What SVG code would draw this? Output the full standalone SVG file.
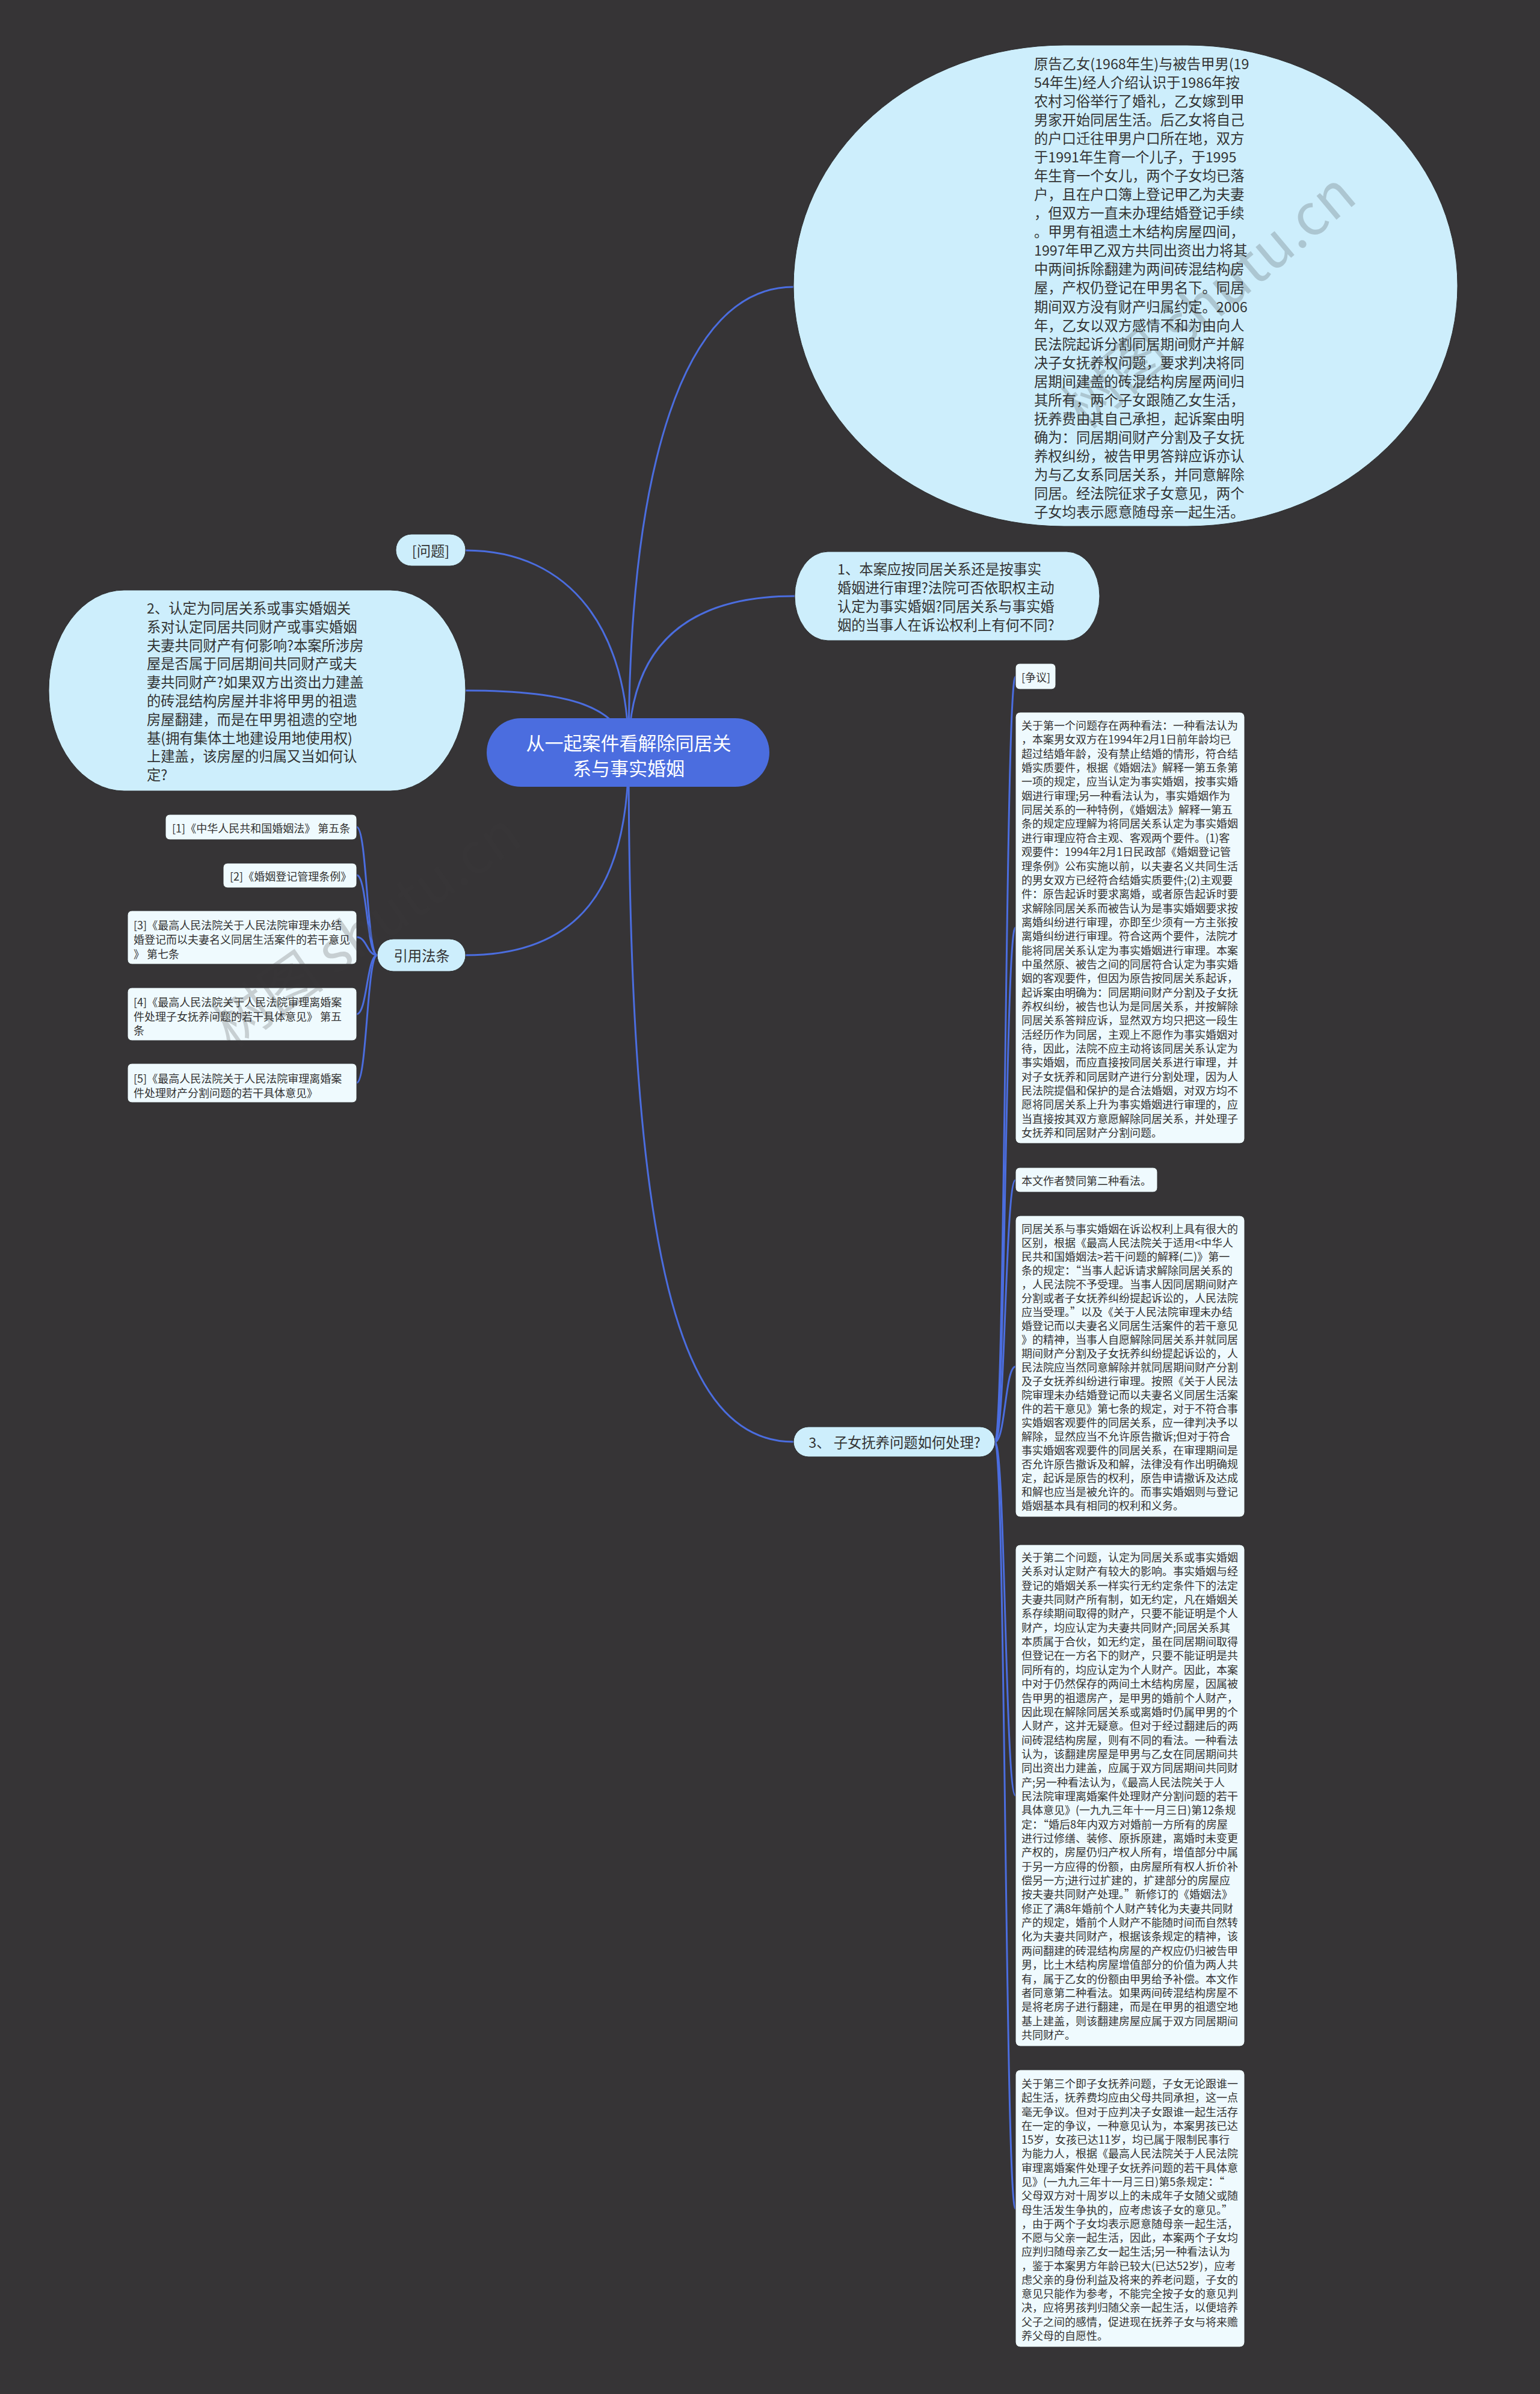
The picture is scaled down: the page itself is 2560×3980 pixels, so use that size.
<svg xmlns="http://www.w3.org/2000/svg" width="2560" height="3980" viewBox="0 0 2560 3980">
<style>
.bg{fill:#363436}
.lb{fill:#cdeefc;stroke:#2e2e30;stroke-width:1}
.wb{fill:#effafe;stroke:#2e2e30;stroke-width:1}
.root{fill:#4b6ddf}
.c{fill:none;stroke:#4b6ddf;stroke-width:3}
text{font-family:"Noto Sans CJK SC","Noto Sans",sans-serif;fill:#333333;dominant-baseline:central}
.t23{font-size:23.3px}
.t18{font-size:18px}
.rt{font-size:31px;fill:#ffffff}
.mid{text-anchor:middle}
.wm{font-size:95px;fill:#3c3c3c;opacity:0.22}
</style>
<rect class="bg" x="0" y="0" width="2560" height="3980"/>
<g id="connectors">
<path class="c" d="M1045,1251 C1045,780 1135,477 1319,477"/>
<path class="c" d="M1045,1251 C1045,1080 1135,991 1321,991"/>
<path class="c" d="M1045,1251 C1045,1050 950,915 774,915"/>
<path class="c" d="M1045,1251 C1030,1175 950,1148 774,1148"/>
<path class="c" d="M1045,1251 C1045,1480 960,1588 774,1588"/>
<path class="c" d="M1045,1251 C1045,2100 1130,2397 1319,2397"/>
<path class="c" d="M627,1588 C610,1588 610,1375 593,1375"/>
<path class="c" d="M627,1588 C610,1588 610,1455 593,1455"/>
<path class="c" d="M627,1588 C610,1588 610,1558 593,1558"/>
<path class="c" d="M627,1588 C610,1588 610,1686 593,1686"/>
<path class="c" d="M627,1588 C610,1588 610,1800 593,1800"/>
<path class="c" d="M1654,2397 C1671,2397 1671,1125 1688,1125"/>
<path class="c" d="M1654,2397 C1671,2397 1671,1542 1688,1542"/>
<path class="c" d="M1654,2397 C1671,2397 1671,1962 1688,1962"/>
<path class="c" d="M1654,2397 C1671,2397 1671,2272 1688,2272"/>
<path class="c" d="M1654,2397 C1671,2397 1671,2985 1688,2985"/>
<path class="c" d="M1654,2397 C1671,2397 1671,3672 1688,3672"/>
</g>
<g id="root">
<rect class="root" x="809" y="1194" width="470" height="114" rx="57" ry="57"/>
<text class="rt mid"><tspan x="1045" y="1233">从一起案件看解除同居关</tspan><tspan x="1045" y="1275">系与事实婚姻</tspan></text>
</g>
<g id="case">
<rect class="lb" x="1319" y="75" width="1104" height="800" rx="450" ry="400"/>
<text class="t23">
<tspan x="1719" y="105">原告乙女(1968年生)与被告甲男(19</tspan>
<tspan x="1719" dy="31.04">54年生)经人介绍认识于1986年按</tspan>
<tspan x="1719" dy="31.04">农村习俗举行了婚礼，乙女嫁到甲</tspan>
<tspan x="1719" dy="31.04">男家开始同居生活。后乙女将自己</tspan>
<tspan x="1719" dy="31.04">的户口迁往甲男户口所在地，双方</tspan>
<tspan x="1719" dy="31.04">于1991年生育一个儿子，于1995</tspan>
<tspan x="1719" dy="31.04">年生育一个女儿，两个子女均已落</tspan>
<tspan x="1719" dy="31.04">户，且在户口簿上登记甲乙为夫妻</tspan>
<tspan x="1719" dy="31.04">，但双方一直未办理结婚登记手续</tspan>
<tspan x="1719" dy="31.04">。甲男有祖遗土木结构房屋四间，</tspan>
<tspan x="1719" dy="31.04">1997年甲乙双方共同出资出力将其</tspan>
<tspan x="1719" dy="31.04">中两间拆除翻建为两间砖混结构房</tspan>
<tspan x="1719" dy="31.04">屋，产权仍登记在甲男名下。同居</tspan>
<tspan x="1719" dy="31.04">期间双方没有财产归属约定。2006</tspan>
<tspan x="1719" dy="31.04">年，乙女以双方感情不和为由向人</tspan>
<tspan x="1719" dy="31.04">民法院起诉分割同居期间财产并解</tspan>
<tspan x="1719" dy="31.04">决子女抚养权问题，要求判决将同</tspan>
<tspan x="1719" dy="31.04">居期间建盖的砖混结构房屋两间归</tspan>
<tspan x="1719" dy="31.04">其所有，两个子女跟随乙女生活，</tspan>
<tspan x="1719" dy="31.04">抚养费由其自己承担，起诉案由明</tspan>
<tspan x="1719" dy="31.04">确为：同居期间财产分割及子女抚</tspan>
<tspan x="1719" dy="31.04">养权纠纷，被告甲男答辩应诉亦认</tspan>
<tspan x="1719" dy="31.04">为与乙女系同居关系，并同意解除</tspan>
<tspan x="1719" dy="31.04">同居。经法院征求子女意见，两个</tspan>
<tspan x="1719" dy="31.04">子女均表示愿意随母亲一起生活。</tspan>
</text>
</g>
<g id="q1">
<rect class="lb" x="1321" y="917" width="507" height="148" rx="55" ry="74"/>
<text class="t23">
<tspan x="1392" y="945">1、本案应按同居关系还是按事实</tspan>
<tspan x="1392" dy="31">婚姻进行审理?法院可否依职权主动</tspan>
<tspan x="1392" dy="31">认定为事实婚姻?同居关系与事实婚</tspan>
<tspan x="1392" dy="31">姻的当事人在诉讼权利上有何不同?</tspan>
</text>
</g>
<g id="wenti">
<rect class="lb" x="658" y="888" width="116" height="53" rx="26" ry="26"/>
<text class="t23 mid" x="716" y="915">[问题]</text>
</g>
<g id="q2">
<rect class="lb" x="81" y="981" width="693" height="334" rx="125" ry="167"/>
<text class="t23">
<tspan x="244" y="1010">2、认定为同居关系或事实婚姻关</tspan>
<tspan x="244" dy="30.8">系对认定同居共同财产或事实婚姻</tspan>
<tspan x="244" dy="30.8">夫妻共同财产有何影响?本案所涉房</tspan>
<tspan x="244" dy="30.8">屋是否属于同居期间共同财产或夫</tspan>
<tspan x="244" dy="30.8">妻共同财产?如果双方出资出力建盖</tspan>
<tspan x="244" dy="30.8">的砖混结构房屋并非将甲男的祖遗</tspan>
<tspan x="244" dy="30.8">房屋翻建，而是在甲男祖遗的空地</tspan>
<tspan x="244" dy="30.8">基(拥有集体土地建设用地使用权)</tspan>
<tspan x="244" dy="30.8">上建盖，该房屋的归属又当如何认</tspan>
<tspan x="244" dy="30.8">定?</tspan>
</text>
</g>
<g id="laws">
<rect class="lb" x="627" y="1561" width="147" height="54" rx="27" ry="27"/>
<text class="t23 mid" x="701" y="1588">引用法条</text>
</g>
<g id="law1">
<rect class="wb" x="275" y="1354" width="318" height="42" rx="7"/>
<text class="t18" x="286" y="1376">[1]《中华人民共和国婚姻法》 第五条</text>
</g>
<g id="law2">
<rect class="wb" x="371" y="1435" width="222" height="41" rx="7"/>
<text class="t18" x="382" y="1456">[2]《婚姻登记管理条例》</text>
</g>
<g id="law3">
<rect class="wb" x="212" y="1514" width="381" height="89" rx="7"/>
<text class="t18"><tspan x="222" y="1537">[3]《最高人民法院关于人民法院审理未办结</tspan><tspan x="222" dy="24">婚登记而以夫妻名义同居生活案件的若干意见</tspan><tspan x="222" dy="24">》 第七条</tspan></text>
</g>
<g id="law4">
<rect class="wb" x="212" y="1642" width="381" height="88" rx="7"/>
<text class="t18"><tspan x="222" y="1665">[4]《最高人民法院关于人民法院审理离婚案</tspan><tspan x="222" dy="23.5">件处理子女抚养问题的若干具体意见》 第五</tspan><tspan x="222" dy="23.5">条</tspan></text>
</g>
<g id="law5">
<rect class="wb" x="212" y="1768" width="381" height="65" rx="7"/>
<text class="t18"><tspan x="222" y="1792">[5]《最高人民法院关于人民法院审理离婚案</tspan><tspan x="222" dy="23.5">件处理财产分割问题的若干具体意见》</tspan></text>
</g>
<g id="q3">
<rect class="lb" x="1319" y="2372" width="335" height="50" rx="25" ry="25"/>
<text class="t23 mid" x="1487" y="2397">3、 子女抚养问题如何处理?</text>
</g>
<g id="zhengyi">
<rect class="wb" x="1688" y="1103" width="67" height="43" rx="7"/>
<text class="t18" x="1698" y="1125">[争议]</text>
</g>
<g id="view1">
<rect class="wb" x="1688" y="1184" width="381" height="717" rx="8"/>
<text class="t18">
<tspan x="1698" y="1205">关于第一个问题存在两种看法：一种看法认为</tspan>
<tspan x="1698" dy="23.35">，本案男女双方在1994年2月1日前年龄均已</tspan>
<tspan x="1698" dy="23.35">超过结婚年龄，没有禁止结婚的情形，符合结</tspan>
<tspan x="1698" dy="23.35">婚实质要件，根据《婚姻法》解释一第五条第</tspan>
<tspan x="1698" dy="23.35">一项的规定，应当认定为事实婚姻，按事实婚</tspan>
<tspan x="1698" dy="23.35">姻进行审理;另一种看法认为，事实婚姻作为</tspan>
<tspan x="1698" dy="23.35">同居关系的一种特例，《婚姻法》解释一第五</tspan>
<tspan x="1698" dy="23.35">条的规定应理解为将同居关系认定为事实婚姻</tspan>
<tspan x="1698" dy="23.35">进行审理应符合主观、客观两个要件。(1)客</tspan>
<tspan x="1698" dy="23.35">观要件：1994年2月1日民政部《婚姻登记管</tspan>
<tspan x="1698" dy="23.35">理条例》公布实施以前，以夫妻名义共同生活</tspan>
<tspan x="1698" dy="23.35">的男女双方已经符合结婚实质要件;(2)主观要</tspan>
<tspan x="1698" dy="23.35">件：原告起诉时要求离婚，或者原告起诉时要</tspan>
<tspan x="1698" dy="23.35">求解除同居关系而被告认为是事实婚姻要求按</tspan>
<tspan x="1698" dy="23.35">离婚纠纷进行审理，亦即至少须有一方主张按</tspan>
<tspan x="1698" dy="23.35">离婚纠纷进行审理。符合这两个要件，法院才</tspan>
<tspan x="1698" dy="23.35">能将同居关系认定为事实婚姻进行审理。本案</tspan>
<tspan x="1698" dy="23.35">中虽然原、被告之间的同居符合认定为事实婚</tspan>
<tspan x="1698" dy="23.35">姻的客观要件，但因为原告按同居关系起诉，</tspan>
<tspan x="1698" dy="23.35">起诉案由明确为：同居期间财产分割及子女抚</tspan>
<tspan x="1698" dy="23.35">养权纠纷，被告也认为是同居关系，并按解除</tspan>
<tspan x="1698" dy="23.35">同居关系答辩应诉，显然双方均只把这一段生</tspan>
<tspan x="1698" dy="23.35">活经历作为同居，主观上不愿作为事实婚姻对</tspan>
<tspan x="1698" dy="23.35">待，因此，法院不应主动将该同居关系认定为</tspan>
<tspan x="1698" dy="23.35">事实婚姻，而应直接按同居关系进行审理，并</tspan>
<tspan x="1698" dy="23.35">对子女抚养和同居财产进行分割处理，因为人</tspan>
<tspan x="1698" dy="23.35">民法院提倡和保护的是合法婚姻，对双方均不</tspan>
<tspan x="1698" dy="23.35">愿将同居关系上升为事实婚姻进行审理的，应</tspan>
<tspan x="1698" dy="23.35">当直接按其双方意愿解除同居关系，并处理子</tspan>
<tspan x="1698" dy="23.35">女抚养和同居财产分割问题。</tspan>
</text>
</g>
<g id="author">
<rect class="wb" x="1688" y="1941" width="236" height="41" rx="7"/>
<text class="t18" x="1698" y="1962">本文作者赞同第二种看法。</text>
</g>
<g id="view2">
<rect class="wb" x="1688" y="2021" width="381" height="501" rx="8"/>
<text class="t18">
<tspan x="1698" y="2042">同居关系与事实婚姻在诉讼权利上具有很大的</tspan>
<tspan x="1698" dy="23">区别，根据《最高人民法院关于适用&lt;中华人</tspan>
<tspan x="1698" dy="23">民共和国婚姻法&gt;若干问题的解释(二)》第一</tspan>
<tspan x="1698" dy="23">条的规定：“当事人起诉请求解除同居关系的</tspan>
<tspan x="1698" dy="23">，人民法院不予受理。当事人因同居期间财产</tspan>
<tspan x="1698" dy="23">分割或者子女抚养纠纷提起诉讼的，人民法院</tspan>
<tspan x="1698" dy="23">应当受理。”以及《关于人民法院审理未办结</tspan>
<tspan x="1698" dy="23">婚登记而以夫妻名义同居生活案件的若干意见</tspan>
<tspan x="1698" dy="23">》的精神，当事人自愿解除同居关系并就同居</tspan>
<tspan x="1698" dy="23">期间财产分割及子女抚养纠纷提起诉讼的，人</tspan>
<tspan x="1698" dy="23">民法院应当然同意解除并就同居期间财产分割</tspan>
<tspan x="1698" dy="23">及子女抚养纠纷进行审理。按照《关于人民法</tspan>
<tspan x="1698" dy="23">院审理未办结婚登记而以夫妻名义同居生活案</tspan>
<tspan x="1698" dy="23">件的若干意见》第七条的规定，对于不符合事</tspan>
<tspan x="1698" dy="23">实婚姻客观要件的同居关系，应一律判决予以</tspan>
<tspan x="1698" dy="23">解除，显然应当不允许原告撤诉;但对于符合</tspan>
<tspan x="1698" dy="23">事实婚姻客观要件的同居关系，在审理期间是</tspan>
<tspan x="1698" dy="23">否允许原告撤诉及和解，法律没有作出明确规</tspan>
<tspan x="1698" dy="23">定，起诉是原告的权利，原告申请撤诉及达成</tspan>
<tspan x="1698" dy="23">和解也应当是被允许的。而事实婚姻则与登记</tspan>
<tspan x="1698" dy="23">婚姻基本具有相同的权利和义务。</tspan>
</text>
</g>
<g id="view3">
<rect class="wb" x="1688" y="2568" width="381" height="834" rx="8"/>
<text class="t18">
<tspan x="1698" y="2588">关于第二个问题，认定为同居关系或事实婚姻</tspan>
<tspan x="1698" dy="23.35">关系对认定财产有较大的影响。事实婚姻与经</tspan>
<tspan x="1698" dy="23.35">登记的婚姻关系一样实行无约定条件下的法定</tspan>
<tspan x="1698" dy="23.35">夫妻共同财产所有制，如无约定，凡在婚姻关</tspan>
<tspan x="1698" dy="23.35">系存续期间取得的财产，只要不能证明是个人</tspan>
<tspan x="1698" dy="23.35">财产，均应认定为夫妻共同财产;同居关系其</tspan>
<tspan x="1698" dy="23.35">本质属于合伙，如无约定，虽在同居期间取得</tspan>
<tspan x="1698" dy="23.35">但登记在一方名下的财产，只要不能证明是共</tspan>
<tspan x="1698" dy="23.35">同所有的，均应认定为个人财产。因此，本案</tspan>
<tspan x="1698" dy="23.35">中对于仍然保存的两间土木结构房屋，因属被</tspan>
<tspan x="1698" dy="23.35">告甲男的祖遗房产，是甲男的婚前个人财产，</tspan>
<tspan x="1698" dy="23.35">因此现在解除同居关系或离婚时仍属甲男的个</tspan>
<tspan x="1698" dy="23.35">人财产，这并无疑意。但对于经过翻建后的两</tspan>
<tspan x="1698" dy="23.35">间砖混结构房屋，则有不同的看法。一种看法</tspan>
<tspan x="1698" dy="23.35">认为，该翻建房屋是甲男与乙女在同居期间共</tspan>
<tspan x="1698" dy="23.35">同出资出力建盖，应属于双方同居期间共同财</tspan>
<tspan x="1698" dy="23.35">产;另一种看法认为，《最高人民法院关于人</tspan>
<tspan x="1698" dy="23.35">民法院审理离婚案件处理财产分割问题的若干</tspan>
<tspan x="1698" dy="23.35">具体意见》(一九九三年十一月三日)第12条规</tspan>
<tspan x="1698" dy="23.35">定：“婚后8年内双方对婚前一方所有的房屋</tspan>
<tspan x="1698" dy="23.35">进行过修缮、装修、原拆原建，离婚时未变更</tspan>
<tspan x="1698" dy="23.35">产权的，房屋仍归产权人所有，增值部分中属</tspan>
<tspan x="1698" dy="23.35">于另一方应得的份额，由房屋所有权人折价补</tspan>
<tspan x="1698" dy="23.35">偿另一方;进行过扩建的，扩建部分的房屋应</tspan>
<tspan x="1698" dy="23.35">按夫妻共同财产处理。”新修订的《婚姻法》</tspan>
<tspan x="1698" dy="23.35">修正了满8年婚前个人财产转化为夫妻共同财</tspan>
<tspan x="1698" dy="23.35">产的规定，婚前个人财产不能随时间而自然转</tspan>
<tspan x="1698" dy="23.35">化为夫妻共同财产，根据该条规定的精神，该</tspan>
<tspan x="1698" dy="23.35">两间翻建的砖混结构房屋的产权应仍归被告甲</tspan>
<tspan x="1698" dy="23.35">男，比土木结构房屋增值部分的价值为两人共</tspan>
<tspan x="1698" dy="23.35">有，属于乙女的份额由甲男给予补偿。本文作</tspan>
<tspan x="1698" dy="23.35">者同意第二种看法。如果两间砖混结构房屋不</tspan>
<tspan x="1698" dy="23.35">是将老房子进行翻建，而是在甲男的祖遗空地</tspan>
<tspan x="1698" dy="23.35">基上建盖，则该翻建房屋应属于双方同居期间</tspan>
<tspan x="1698" dy="23.35">共同财产。</tspan>
</text>
</g>
<g id="view4">
<rect class="wb" x="1688" y="3441" width="381" height="461" rx="8"/>
<text class="t18">
<tspan x="1698" y="3463">关于第三个即子女抚养问题，子女无论跟谁一</tspan>
<tspan x="1698" dy="23.28">起生活，抚养费均应由父母共同承担，这一点</tspan>
<tspan x="1698" dy="23.28">毫无争议。但对于应判决子女跟谁一起生活存</tspan>
<tspan x="1698" dy="23.28">在一定的争议，一种意见认为，本案男孩已达</tspan>
<tspan x="1698" dy="23.28">15岁，女孩已达11岁，均已属于限制民事行</tspan>
<tspan x="1698" dy="23.28">为能力人，根据《最高人民法院关于人民法院</tspan>
<tspan x="1698" dy="23.28">审理离婚案件处理子女抚养问题的若干具体意</tspan>
<tspan x="1698" dy="23.28">见》(一九九三年十一月三日)第5条规定：“</tspan>
<tspan x="1698" dy="23.28">父母双方对十周岁以上的未成年子女随父或随</tspan>
<tspan x="1698" dy="23.28">母生活发生争执的，应考虑该子女的意见。”</tspan>
<tspan x="1698" dy="23.28">，由于两个子女均表示愿意随母亲一起生活，</tspan>
<tspan x="1698" dy="23.28">不愿与父亲一起生活，因此，本案两个子女均</tspan>
<tspan x="1698" dy="23.28">应判归随母亲乙女一起生活;另一种看法认为</tspan>
<tspan x="1698" dy="23.28">，鉴于本案男方年龄已较大(已达52岁)，应考</tspan>
<tspan x="1698" dy="23.28">虑父亲的身份利益及将来的养老问题，子女的</tspan>
<tspan x="1698" dy="23.28">意见只能作为参考，不能完全按子女的意见判</tspan>
<tspan x="1698" dy="23.28">决，应将男孩判归随父亲一起生活，以便培养</tspan>
<tspan x="1698" dy="23.28">父子之间的感情，促进现在抚养子女与将来赡</tspan>
<tspan x="1698" dy="23.28">养父母的自愿性。</tspan>
</text>
</g>
<g id="watermark">
<text class="wm" x="1776" y="685" transform="rotate(-40 1776 685)">树图 shutu.cn</text>
<text class="wm" x="360" y="1710" transform="rotate(-35 360 1710)">树图 shutu.cn</text>
</g>
</svg>
